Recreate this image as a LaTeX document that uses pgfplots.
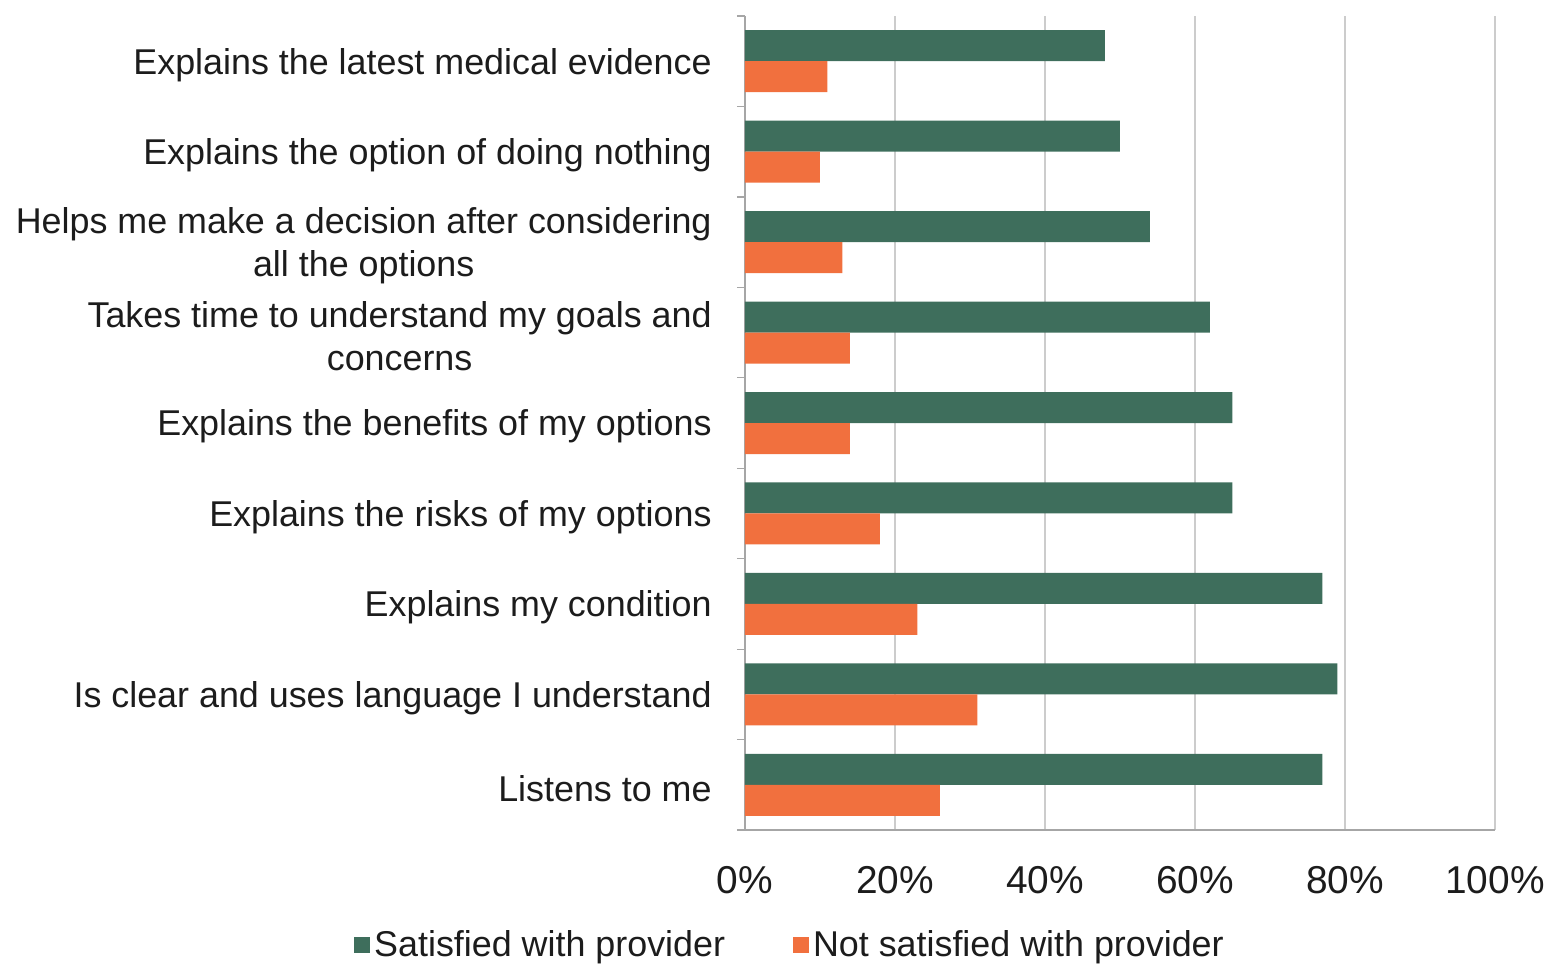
\documentclass[border=0pt]{standalone}
\usepackage{fontspec}
\setmainfont{Liberation Sans}
\usepackage{pgfplots}
\pgfplotsset{compat=1.18}
\definecolor{cgreen}{RGB}{62,110,92}
\definecolor{corange}{RGB}{241,112,62}
\definecolor{ctext}{RGB}{28,28,28}
\begin{document}
\begin{tikzpicture}
\begin{axis}[
  scale only axis, width=375bp, height=407bp,
  xmin=0, xmax=100, ymin=-0.5, ymax=8.5,
  xbar, bar width=15.5bp,
  axis lines*=left,
  axis line style={draw=gray!70, line width=0.6bp},
  xtick={0,20,...,100},
  xticklabel={\pgfmathprintnumber{\tick}\%},
  /pgf/number format/assume math mode=true,
  xmajorgrids,
  major grid style={draw=gray!40, line width=0.6bp},
  ytick={0,...,8},
  yticklabels={Listens to me,
    Is clear and uses language I understand,
    Explains my condition,
    Explains the risks of my options,
    Explains the benefits of my options,
    {Takes time to understand my goals and\\concerns},
    {Helps me make a decision after considering\\all the options},
    Explains the option of doing nothing,
    Explains the latest medical evidence},
  minor ytick={-0.5,0.5,...,8.5},
  major tick length=0pt,
  minor tick length=4bp,
  tick align=outside,
  minor tick style={draw=gray!70, line width=0.6bp},
  yticklabel style={font=\fontsize{18}{21.5}\selectfont, text=ctext, align=center, inner sep=0pt, xshift=-16.5bp, yshift=-1.8bp},
  xticklabel style={font=\fontsize{19.5}{23}\selectfont, text=ctext, inner sep=0pt, anchor=north, yshift=-18bp},
  legend style={at={(0.0613,-0.1413)}, anchor=center, draw=none, fill=none,
    font=\fontsize{18}{21}\selectfont, text=ctext, legend columns=2,
    /tikz/every even column/.append style={column sep=32bp}},
  legend image code/.code={\fill[#1] (0bp,-4bp) rectangle (8bp,4bp);},
]
\addplot[fill=cgreen, draw=none, bar shift=7.75bp] coordinates {
  (77,0) (79,1) (77,2) (65,3) (65,4) (62,5) (54,6) (50,7) (48,8)};
\addlegendentry{Satisfied with provider}
\addplot[fill=corange, draw=none, bar shift=-7.75bp] coordinates {
  (26,0) (31,1) (23,2) (18,3) (14,4) (14,5) (13,6) (10,7) (11,8)};
\addlegendentry{Not satisfied with provider}
\end{axis}
\pgfresetboundingbox
\path[use as bounding box] (-372.5bp,-68bp) rectangle (403.5bp,415bp);
\end{tikzpicture}
\end{document}
